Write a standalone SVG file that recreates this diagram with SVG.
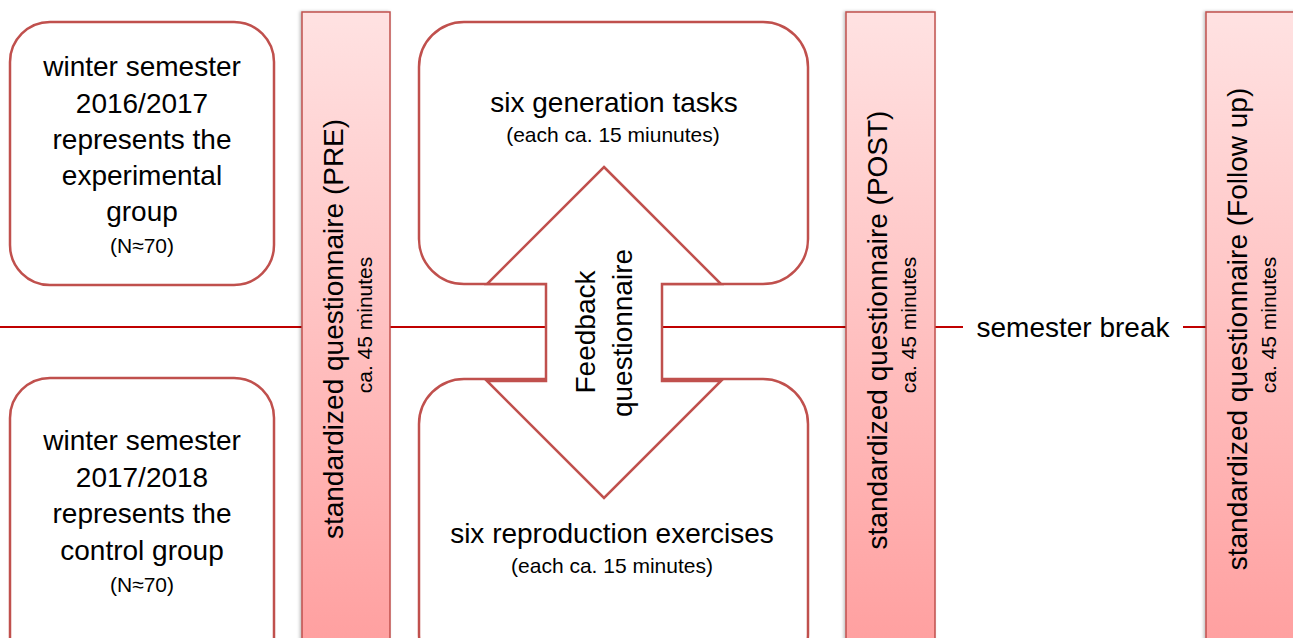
<svg xmlns="http://www.w3.org/2000/svg" width="1293" height="638" viewBox="0 0 1293 638">
<defs>
<linearGradient id="barGrad" x1="0" y1="0" x2="0" y2="1">
<stop offset="0" stop-color="#ffe2e2"/>
<stop offset="1" stop-color="#ff9f9f"/>
</linearGradient>
<filter id="shadow" x="-20%" y="-5%" width="140%" height="110%">
<feDropShadow dx="-1.5" dy="0" stdDeviation="1.5" flood-color="#000" flood-opacity="0.25"/>
</filter>
</defs>
<style>
.box{fill:#fff;stroke:#c0504d;stroke-width:2.5}
.bar{fill:url(#barGrad);stroke:#c0504d;stroke-width:1.5;filter:url(#shadow)}
.line{stroke:#c00000;stroke-width:2;fill:none}
text{font-family:"Liberation Sans",Arial,sans-serif;fill:#000;text-anchor:middle}
.big{font-size:28px}
.small{font-size:21px}
</style>
<rect width="1293" height="638" fill="#fff"/>
<g id="connectors">
<line class="line" x1="0" y1="327" x2="963" y2="327"/>
<line class="line" x1="1183" y1="327" x2="1293" y2="327"/>
</g>
<g id="group-experimental">
<rect class="box" x="10" y="22" width="264" height="263" rx="40"/>
<text class="big" x="142" y="76">winter semester</text>
<text class="big" x="142" y="113">2016/2017</text>
<text class="big" x="142" y="149">represents the</text>
<text class="big" x="142" y="185">experimental</text>
<text class="big" x="142" y="221">group</text>
<text class="small" x="142" y="253">(N≈70)</text>
</g>
<g id="group-control">
<rect class="box" x="10" y="378" width="264" height="300" rx="40"/>
<text class="big" x="142" y="450">winter semester</text>
<text class="big" x="142" y="487">2017/2018</text>
<text class="big" x="142" y="523">represents the</text>
<text class="big" x="142" y="560">control group</text>
<text class="small" x="142" y="592">(N≈70)</text>
</g>
<g id="generation-tasks">
<rect class="box" x="419" y="22" width="389" height="262" rx="45"/>
<text class="big" x="614" y="112">six generation tasks</text>
<text class="small" x="613" y="142">(each ca. 15 miunutes)</text>
</g>
<g id="reproduction-exercises">
<rect class="box" x="419" y="379" width="389" height="300" rx="45"/>
<text class="big" x="612" y="543">six reproduction exercises</text>
<text class="small" x="612" y="573">(each ca. 15 minutes)</text>
</g>
<g id="feedback">
<polygon class="box" points="604,167 721,284 662,284 662,381 721,381 604,498 487,381 546,381 546,284 487,284"/>
<text class="big" transform="translate(595,332) rotate(-90)">Feedback</text>
<text class="big" transform="translate(632,333) rotate(-90)">questionnaire</text>
</g>
<g id="pre">
<rect class="bar" x="302" y="12" width="88" height="640"/>
<text class="big" transform="translate(343,329) rotate(-90)">standardized questionnaire (PRE)</text>
<text class="small" transform="translate(372,325) rotate(-90)">ca. 45 minutes</text>
</g>
<g id="post">
<rect class="bar" x="846" y="12" width="89" height="640"/>
<text class="big" transform="translate(887,330) rotate(-90)">standardized questionnaire (POST)</text>
<text class="small" transform="translate(916,325) rotate(-90)">ca. 45 minutes</text>
</g>
<g id="semester-break">
<text class="big" x="1073" y="337">semester break</text>
</g>
<g id="followup">
<rect class="bar" x="1206" y="12" width="100" height="640"/>
<text class="big" transform="translate(1247,329) rotate(-90)">standardized questionnaire (Follow up)</text>
<text class="small" transform="translate(1276,325) rotate(-90)">ca. 45 minutes</text>
</g>
</svg>
